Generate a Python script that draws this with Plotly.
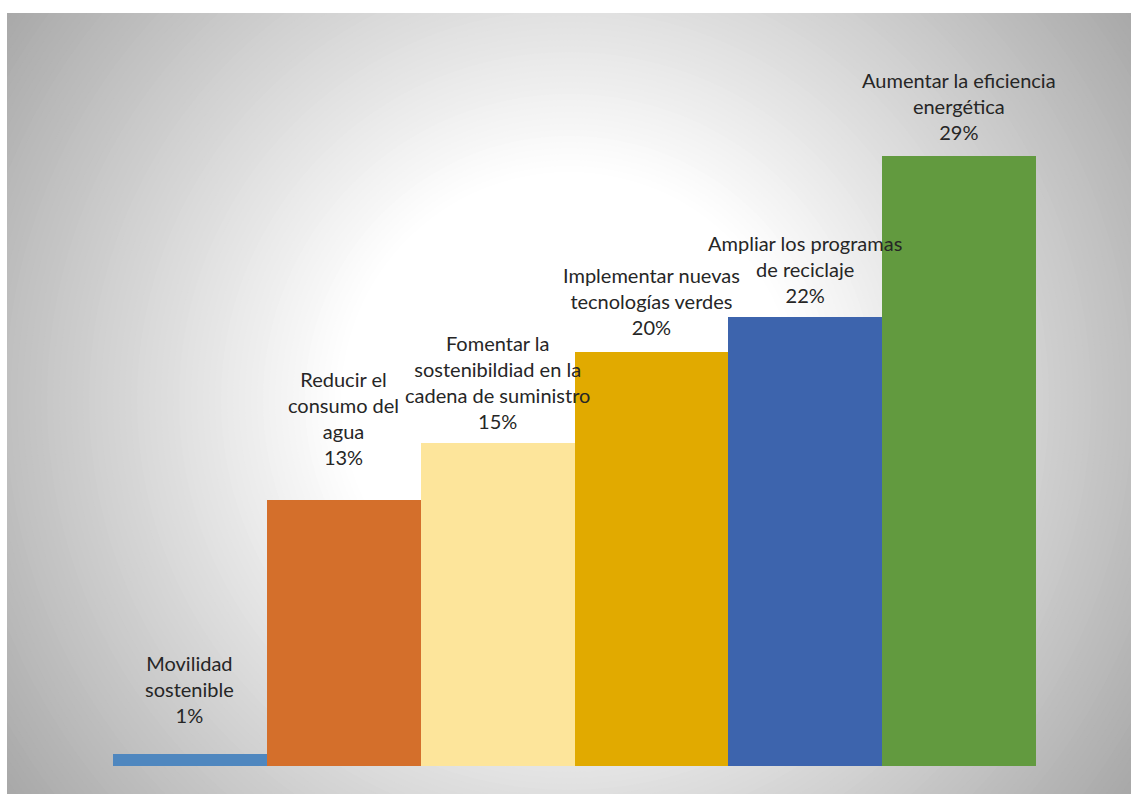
import plotly.graph_objects as go

# ---- data ----
categories = [
    "Movilidad<br>sostenible",
    "Reducir el<br>consumo del<br>agua",
    "Fomentar la<br>sostenibildiad en la<br>cadena de suministro",
    "Implementar nuevas<br>tecnologías verdes",
    "Ampliar los programas<br>de reciclaje",
    "Aumentar la eficiencia<br>energética",
]
values = [0.58, 12.76, 15.49, 19.86, 21.53, 29.26]
pct_labels = ["1%", "13%", "15%", "20%", "22%", "29%"]

# ---- styles ----
bar_colors = ["#4f87bf", "#d46f2b", "#fde59b", "#e1aa00", "#3d64ad", "#629a3f"]
label_shift = [25, 29, 8, 11, 8, 10]

W, H = 1131, 794
ML, MR, MT, MB = 113, 95, 30, 28
PW, PH = W - ML - MR, H - MT - MB


def px_x(p):
    return (p - ML) / PW


def px_y(p):
    return (H - MB - p) / PH


fig = go.Figure()
xs = list(range(len(categories)))
fig.add_trace(go.Bar(
    x=xs, y=values, marker=dict(color=bar_colors, line=dict(width=0)),
    hoverinfo="skip", showlegend=False,
))

annotations = []
for i, (c, v, t) in enumerate(zip(categories, values, pct_labels)):
    annotations.append(dict(
        x=i, y=v, xref="x", yref="y", text=f"{c}<br>{t}", showarrow=False,
        yanchor="bottom", xanchor="center", yshift=label_shift[i],
        font=dict(family="Lato", size=20, color="#262626"), align="center",
    ))

# background: radial gradient built from concentric circles
shapes = [dict(type="rect", xref="paper", yref="paper", layer="below",
               x0=px_x(7), x1=px_x(W), y0=px_y(13), y1=px_y(H),
               fillcolor="#a6a6a6", line=dict(width=0))]
cx, cy = 569, 400
r = 720
while r >= 220:
    g = 255 - 0.19 * (r - 230)
    g = int(max(166, min(255, round(g))))
    col = f"rgb({g},{g},{g})"
    shapes.append(dict(type="circle", xref="paper", yref="paper", layer="below",
                       x0=px_x(cx - r), x1=px_x(cx + r), y0=px_y(cy + r), y1=px_y(cy - r),
                       fillcolor=col, line=dict(width=0)))
    r -= 6
shapes.append(dict(type="rect", xref="paper", yref="paper", layer="below",
                   x0=px_x(-50), x1=px_x(7), y0=px_y(H + 50), y1=px_y(-50),
                   fillcolor="white", line=dict(width=0)))
shapes.append(dict(type="rect", xref="paper", yref="paper", layer="below",
                   x0=px_x(-50), x1=px_x(W + 50), y0=px_y(13), y1=px_y(-50),
                   fillcolor="white", line=dict(width=0)))

fig.update_layout(
    width=W, height=H,
    margin=dict(l=ML, r=MR, t=MT, b=MB, pad=0),
    paper_bgcolor="white", plot_bgcolor="rgba(0,0,0,0)",
    bargap=0,
    xaxis=dict(range=[-0.5, len(categories) - 0.5], visible=False, fixedrange=True),
    yaxis=dict(range=[0, PH / 20.85], visible=False, fixedrange=True),
    shapes=shapes, annotations=annotations,
    showlegend=False,
)

fig.write_html("out.html", config={"displayModeBar": False})
